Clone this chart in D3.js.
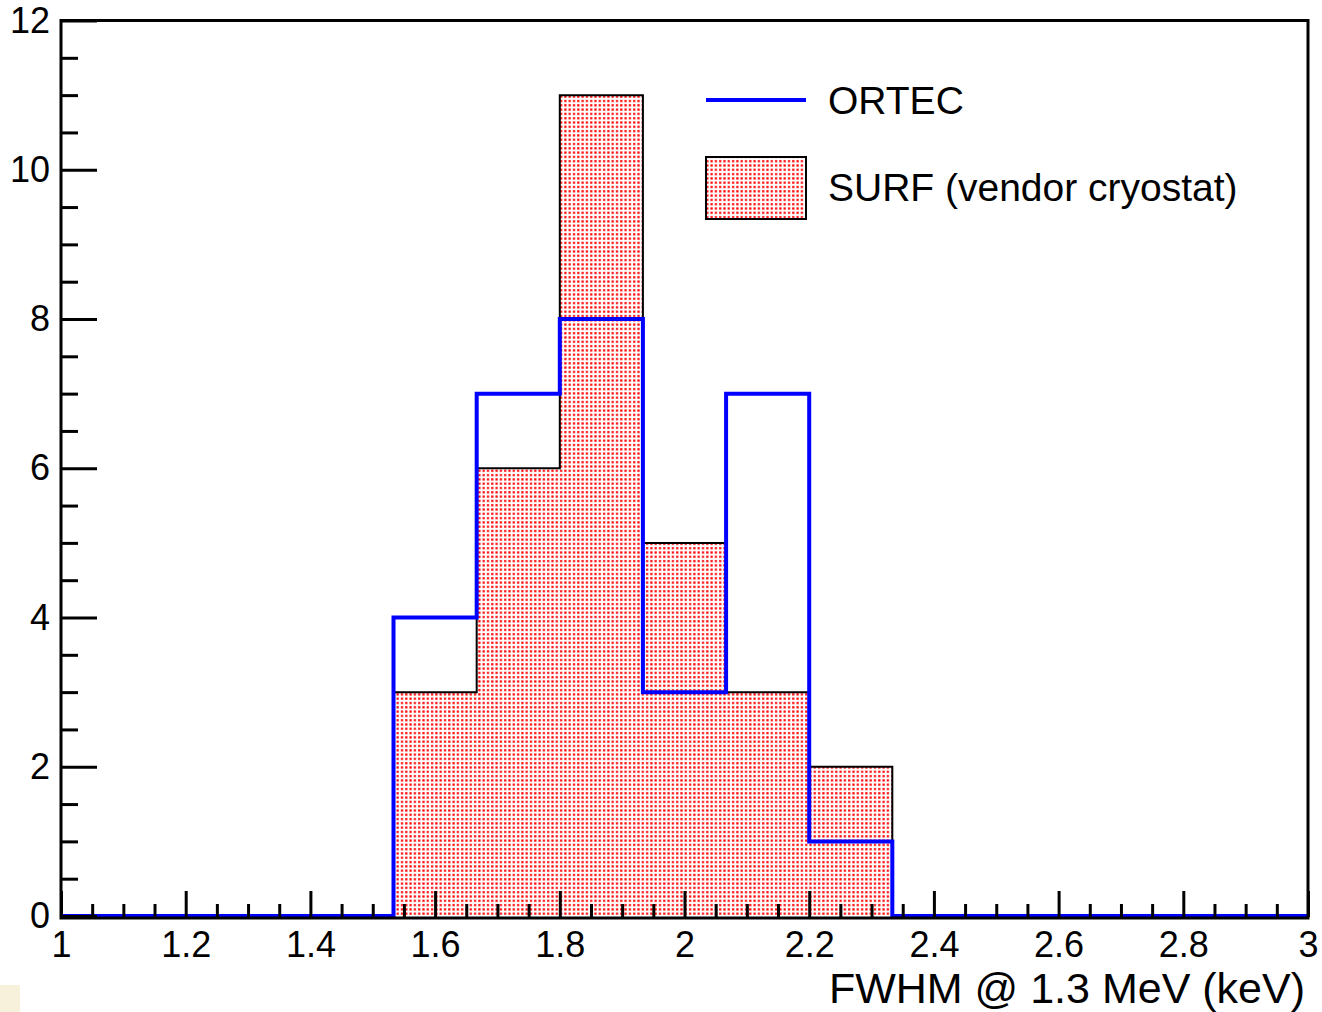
<!DOCTYPE html>
<html>
<head>
<meta charset="utf-8">
<script src="https://cdn.jsdelivr.net/npm/d3@7"></script>
<style>
    body { margin: 0; background: #ffffff; }
    .font { font-family: "Liberation Sans", Arial, Helvetica, sans-serif; fill: #000000; }
</style>
</head>
<body>
<svg id="chart" width="1322" height="1012"></svg>
<script>
const SVG_WIDTH = 1322;
const SVG_HEIGHT = 1012;

// histogram binning (15 bins between 1 and 3 keV)
var binEdges = [1, 1.1333, 1.2667, 1.4, 1.5333, 1.6667, 1.8, 1.9333, 2.0667,
    2.2, 2.3333, 2.4667, 2.6, 2.7333, 2.8667, 3];
var surfCounts = [0, 0, 0, 0, 3, 6, 11, 5, 3, 2, 0, 0, 0, 0, 0];
var ortecCounts = [0, 0, 0, 0, 4, 7, 8, 3, 7, 1, 0, 0, 0, 0, 0];

var xMajorTicks = [1, 1.2, 1.4, 1.6, 1.8, 2, 2.2, 2.4, 2.6, 2.8, 3];
var xMinorTicks = [1.05, 1.1, 1.15, 1.25, 1.3, 1.35, 1.45, 1.5, 1.55, 1.65, 1.7, 1.75,
    1.85, 1.9, 1.95, 2.05, 2.1, 2.15, 2.25, 2.3, 2.35, 2.45, 2.5, 2.55,
    2.65, 2.7, 2.75, 2.85, 2.9, 2.95];
var yMajorTicks = [0, 2, 4, 6, 8, 10, 12];
var yMinorTicks = [0.5, 1, 1.5, 2.5, 3, 3.5, 4.5, 5, 5.5, 6.5, 7, 7.5, 8.5, 9, 9.5,
    10.5, 11, 11.5];

const X_AXIS_TITLE = "FWHM @ 1.3 MeV (keV)";
const LEGEND_LABELS = ["ORTEC", "SURF (vendor cryostat)"];

const FRAME_LEFT = 61;
const FRAME_RIGHT = 1308;
const FRAME_TOP = 20.5;
const FRAME_BOTTOM = 917;

var svg = d3.select("#chart");

var defs = svg.append("defs");
var dots = defs.append("pattern")
    .attr("id", "dots")
    .attr("patternUnits", "userSpaceOnUse")
    .attr("width", 4.3)
    .attr("height", 4.3);
dots.append("rect")
    .attr("width", 4.3)
    .attr("height", 4.3)
    .attr("fill", "#ffffff");
dots.append("rect")
    .attr("x", 1)
    .attr("y", 1)
    .attr("width", 2.2)
    .attr("height", 2.2)
    .attr("fill", "#ff0000");

var xScale = d3.scaleLinear()
    .domain([1, 3])
    .range([FRAME_LEFT, FRAME_RIGHT]);
var yScale = d3.scaleLinear()
    .domain([0, 12])
    .range([916, FRAME_TOP]);

// step outline of a histogram, from first to last edge
function stepPoints(counts) {
    var pts = [[binEdges[0], 0]];
    for (var i = 0; i < counts.length; i++) {
        pts.push([binEdges[i], counts[i]]);
        pts.push([binEdges[i + 1], counts[i]]);
    }
    pts.push([binEdges[binEdges.length - 1], 0]);
    return pts;
}
var line = d3.line()
    .x(function(d) { return xScale(d[0]); })
    .y(function(d) { return yScale(d[1]); });

// SURF: dotted red fill with thin black outline
var surfPts = stepPoints(surfCounts);
svg.append("path")
    .attr("d", line(surfPts) + "Z")
    .attr("fill", "url(#dots)")
    .attr("stroke", "none");
var firstBin = surfCounts.findIndex(function(c) { return c > 0; });
var lastBin = surfCounts.length - 1 - surfCounts.slice().reverse().findIndex(function(c) { return c > 0; });
svg.append("path")
    .attr("d", line(surfPts.slice(2 * firstBin, 2 * (lastBin + 1) + 2)))
    .attr("fill", "none")
    .attr("stroke", "#000000")
    .attr("stroke-width", 2);

// ORTEC: blue step line
svg.append("path")
    .attr("d", line(stepPoints(ortecCounts).slice(1)))
    .attr("fill", "none")
    .attr("stroke", "#0000ff")
    .attr("stroke-width", 4)
    .attr("stroke-linejoin", "miter");

// axes
function styleAxis(g) {
    g.select(".domain").remove();
    g.selectAll(".tick line").attr("stroke", "#000000").attr("stroke-width", 3);
    g.selectAll("text").classed("font", true).attr("fill", "#000000");
}

svg.append("g")
    .attr("transform", "translate(0," + FRAME_BOTTOM + ")")
    .call(d3.axisBottom(xScale)
        .tickValues(xMinorTicks)
        .tickSizeInner(-13)
        .tickSizeOuter(0)
        .tickFormat(""))
    .call(styleAxis);
svg.append("g")
    .attr("transform", "translate(0," + FRAME_BOTTOM + ")")
    .call(d3.axisBottom(xScale)
        .tickValues(xMajorTicks)
        .tickSizeInner(-26)
        .tickSizeOuter(0)
        .tickPadding(14)
        .tickFormat(d3.format("~g")))
    .call(styleAxis)
    .selectAll("text")
    .style("font-size", "36px");

svg.append("g")
    .attr("transform", "translate(" + FRAME_LEFT + ",0)")
    .call(d3.axisLeft(yScale)
        .tickValues(yMinorTicks)
        .tickSizeInner(-17)
        .tickSizeOuter(0)
        .tickFormat(""))
    .call(styleAxis);
svg.append("g")
    .attr("transform", "translate(" + FRAME_LEFT + ",0)")
    .call(d3.axisLeft(yScale)
        .tickValues(yMajorTicks)
        .tickSizeInner(-36)
        .tickSizeOuter(0)
        .tickPadding(11)
        .tickFormat(d3.format("d")))
    .call(styleAxis)
    .selectAll("text")
    .style("font-size", "36px");

// frame
svg.append("rect")
    .attr("x", FRAME_LEFT)
    .attr("y", FRAME_TOP)
    .attr("width", FRAME_RIGHT - FRAME_LEFT)
    .attr("height", FRAME_BOTTOM + 1 - FRAME_TOP)
    .attr("fill", "none")
    .attr("stroke", "#000000")
    .attr("stroke-width", 3);

svg.append("text")
    .attr("x", 1305)
    .attr("y", 1003)
    .attr("text-anchor", "end")
    .style("font-size", "43px")
    .classed("font", true)
    .text(X_AXIS_TITLE);

// legend
var legend = svg.append("g");
legend.append("line")
    .attr("x1", 706)
    .attr("x2", 806)
    .attr("y1", 100)
    .attr("y2", 100)
    .attr("stroke", "#0000ff")
    .attr("stroke-width", 4);
legend.append("rect")
    .attr("x", 706)
    .attr("y", 157)
    .attr("width", 100)
    .attr("height", 62)
    .attr("fill", "url(#dots)")
    .attr("stroke", "#000000")
    .attr("stroke-width", 2);
legend.selectAll("text.legend")
    .data(LEGEND_LABELS)
    .enter()
    .append("text")
    .classed("legend font", true)
    .attr("x", 828)
    .attr("y", function(d, i) { return i === 0 ? 114 : 201; })
    .style("font-size", "39px")
    .text(function(d) { return d; });

// small viewer icon in the corner
svg.append("rect")
    .attr("x", 0)
    .attr("y", 985)
    .attr("width", 20)
    .attr("height", 27)
    .attr("fill", "#f7f1dc");
</script>
</body>
</html>
